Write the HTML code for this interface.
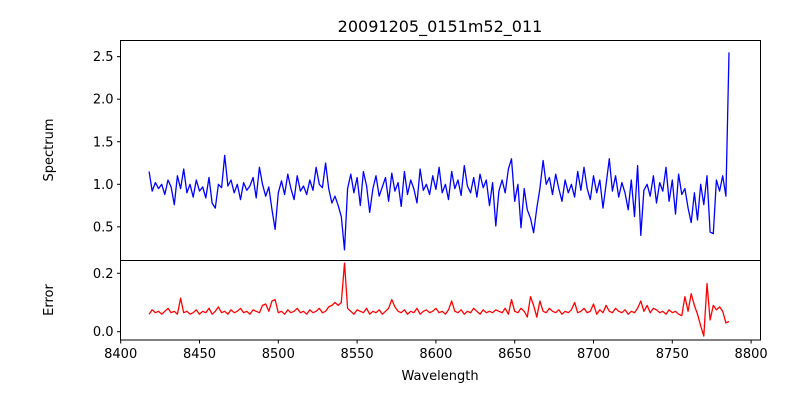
<!DOCTYPE html>
<html><head><meta charset="utf-8">
<style>
html,body{margin:0;padding:0;background:#fff;}
svg text{font-family:"DejaVu Sans","Liberation Sans",sans-serif;fill:#000;}
</style></head>
<body>
<svg id="chart" width="800" height="400" xmlns="http://www.w3.org/2000/svg">
<rect width="800" height="400" fill="#fff"/>
<text x="440" y="32" font-size="16" text-anchor="middle">20091205_0151m52_011</text>
<g id="topPanel"></g>
<g id="botPanel"></g>
<text x="440" y="380" font-size="13" text-anchor="middle">Wavelength</text>
<text transform="translate(53,150) rotate(-90)" font-size="13" text-anchor="middle">Spectrum</text>
<text transform="translate(53,300) rotate(-90)" font-size="13" text-anchor="middle">Error</text>
</svg>
<script>
const waveStart = 8418;
const waveStep = 2;
const spectrum = [
1.15,0.92,1.02,0.95,1.0,0.88,1.05,0.97,0.76,1.1,
0.95,1.18,0.9,1.0,0.85,1.05,0.92,0.97,0.84,1.08,
0.78,0.72,1.0,0.96,1.34,0.98,1.05,0.9,1.0,0.82,
1.02,0.93,0.98,1.08,0.84,1.2,1.0,0.86,0.97,0.70,
0.47,0.9,1.04,0.88,1.12,0.95,0.82,1.1,0.92,0.98,
0.88,1.05,0.93,1.2,1.0,0.96,1.25,0.95,0.78,0.86,
0.75,0.62,0.23,0.95,1.12,0.9,1.08,0.75,1.15,0.98,
0.67,0.95,1.1,0.86,0.97,1.08,0.8,1.13,0.92,1.02,
0.74,1.15,0.88,1.05,0.95,0.78,1.18,0.93,1.0,0.88,
1.1,0.94,1.2,0.9,1.0,0.82,1.15,0.95,1.05,0.87,
1.22,0.98,0.9,1.08,0.85,1.12,0.96,1.05,0.75,1.02,
0.51,0.92,1.05,0.9,1.18,1.3,0.8,1.0,0.49,0.95,
0.7,0.6,0.43,0.72,0.95,1.28,1.0,1.08,0.88,1.12,
0.95,0.8,1.05,0.9,1.0,0.85,1.15,0.93,1.2,0.95,
0.82,1.1,0.9,1.05,0.72,1.0,1.3,0.92,1.1,0.85,
1.02,0.9,0.7,1.05,0.62,1.22,0.40,0.93,1.0,0.86,
1.1,0.78,1.02,0.92,1.2,0.8,1.05,0.65,1.12,0.88,
0.95,0.72,0.55,0.9,0.58,1.0,0.76,1.1,0.44,0.42,
1.05,0.92,1.1,0.86,2.55];
const errors = [
0.06,0.075,0.065,0.07,0.06,0.07,0.08,0.065,0.07,0.06,
0.115,0.065,0.07,0.06,0.065,0.075,0.06,0.07,0.065,0.08,
0.06,0.07,0.085,0.065,0.07,0.06,0.075,0.065,0.07,0.08,
0.065,0.07,0.06,0.075,0.07,0.065,0.09,0.095,0.07,0.105,
0.11,0.065,0.07,0.06,0.075,0.065,0.07,0.08,0.065,0.07,
0.06,0.075,0.065,0.07,0.08,0.065,0.07,0.085,0.09,0.1,
0.09,0.1,0.235,0.08,0.07,0.06,0.075,0.07,0.065,0.08,
0.06,0.07,0.065,0.075,0.06,0.07,0.08,0.11,0.085,0.07,
0.065,0.075,0.06,0.07,0.065,0.08,0.06,0.07,0.075,0.065,
0.07,0.08,0.065,0.07,0.06,0.075,0.105,0.07,0.065,0.075,
0.06,0.07,0.065,0.08,0.07,0.06,0.075,0.065,0.07,0.065,
0.075,0.07,0.065,0.08,0.06,0.11,0.07,0.065,0.08,0.07,
0.05,0.12,0.09,0.05,0.105,0.07,0.065,0.08,0.07,0.065,
0.075,0.06,0.07,0.065,0.075,0.1,0.065,0.07,0.08,0.065,
0.07,0.095,0.06,0.075,0.065,0.09,0.07,0.065,0.08,0.07,
0.065,0.075,0.06,0.07,0.065,0.08,0.105,0.07,0.09,0.065,
0.08,0.075,0.065,0.07,0.06,0.075,0.065,0.07,0.06,0.055,
0.12,0.07,0.13,0.09,0.06,0.02,-0.015,0.165,0.04,0.09,
0.075,0.085,0.07,0.03,0.035];
const xTicks = [8400,8450,8500,8550,8600,8650,8700,8750,8800];
const specTicks = [0.5,1.0,1.5,2.0,2.5];
const errTicks = [0.0,0.2];

const NS = "http://www.w3.org/2000/svg";
const L = 120.5, R = 760.5;
const X = w => 120.7 + (w - 8400) * 1.576;
const YS = v => 184.3 - (v - 1) * 85.1;
const YE = v => 331.7 - v * 292;
function mk(parent, tag, attrs) {
  const el = document.createElementNS(NS, tag);
  for (const k in attrs) el.setAttribute(k, attrs[k]);
  parent.appendChild(el);
  return el;
}
const topG = document.getElementById('topPanel');
const botG = document.getElementById('botPanel');

function drawLine(g, vals, Y, color, name) {
  const pts = vals.map((v, i) => X(waveStart + i * waveStep).toFixed(1) + ',' + Y(v).toFixed(1)).join(' ');
  const p = mk(g, 'polyline', {points: pts, fill: 'none', stroke: color, 'stroke-width': 1.3, 'stroke-linejoin': 'round'});
  
  
}
drawLine(topG, spectrum, YS, '#0000ff', 'spectrum-line');
drawLine(botG, errors, YE, '#ff0000', 'error-line');

const f1 = mk(topG, 'rect', {x: L, y: 40.5, width: R - L, height: 220, fill: 'none', stroke: '#000', 'stroke-width': 1});


const f2 = mk(botG, 'rect', {x: L, y: 260.5, width: R - L, height: 79.5, fill: 'none', stroke: '#000', 'stroke-width': 1});



specTicks.forEach(t => {
  const y = YS(t);
  const tk = mk(topG, 'line', {x1: L - 3.5, x2: L, y1: y, y2: y, stroke: '#000'});
  
  
  const tx = mk(topG, 'text', {x: L - 7, y: y + 4.5, 'font-size': 13, 'text-anchor': 'end'});
  tx.textContent = t.toFixed(1);
  
  
});
errTicks.forEach(t => {
  const y = YE(t);
  const tk = mk(botG, 'line', {x1: L - 3.5, x2: L, y1: y, y2: y, stroke: '#000'});
  
  
  const tx = mk(botG, 'text', {x: L - 7, y: y + 4.5, 'font-size': 13, 'text-anchor': 'end'});
  tx.textContent = t.toFixed(1);
  
  
});
xTicks.forEach(t => {
  const x = X(t);
  const tk = mk(botG, 'line', {x1: x, x2: x, y1: 340, y2: 343.5, stroke: '#000'});
  
  
  const tx = mk(botG, 'text', {x: x, y: 358, 'font-size': 13, 'text-anchor': 'middle'});
  tx.textContent = t;
  
  
});
</script>
</body></html>
